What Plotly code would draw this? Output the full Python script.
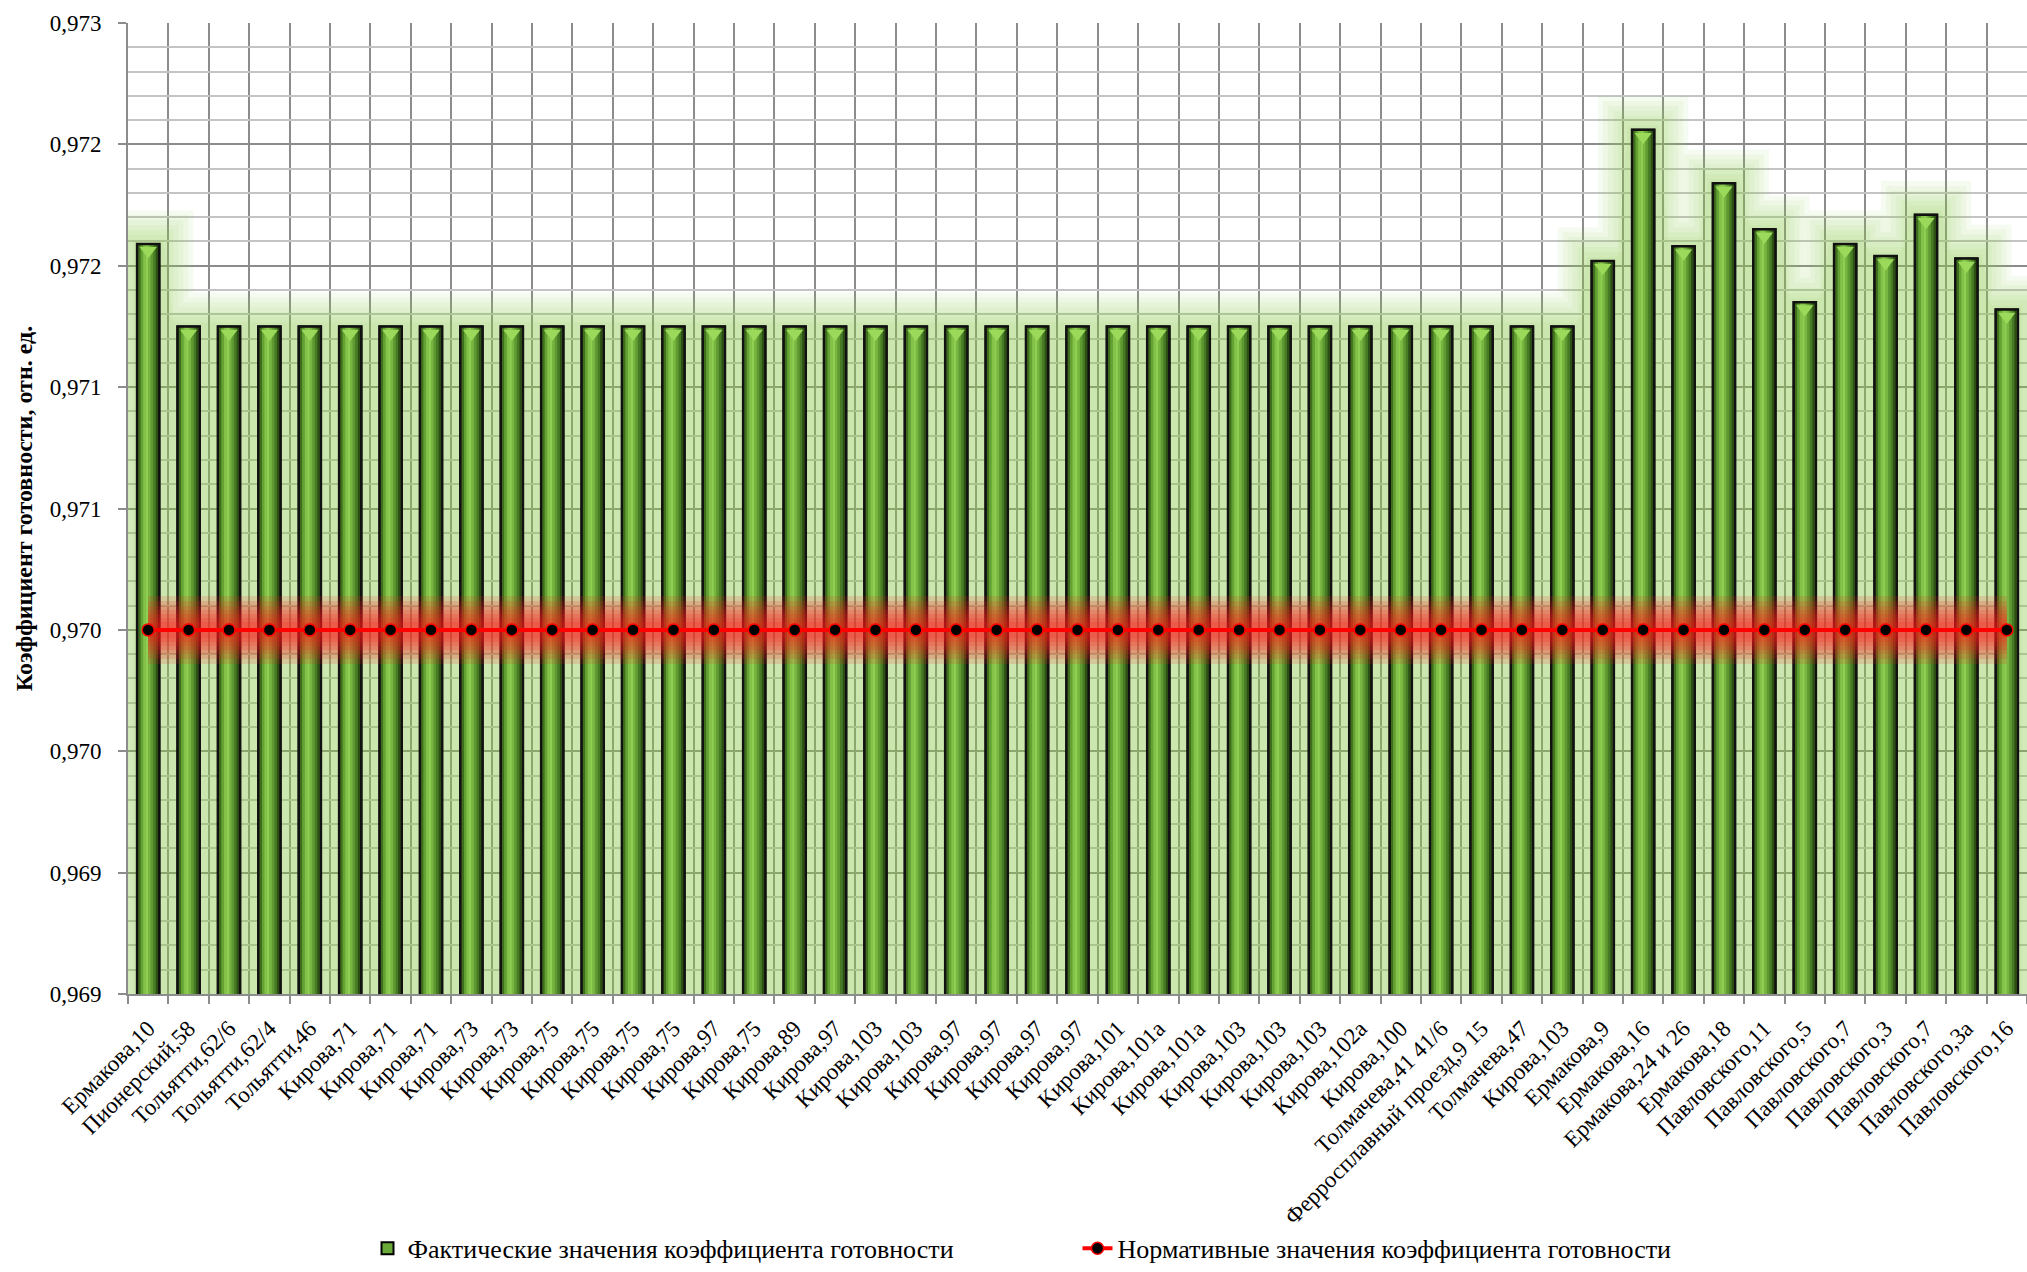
import numpy as np
import plotly.graph_objects as go

categories = [
    "Ермакова,10", "Пионерский,58", "Тольятти,62/6", "Тольятти,62/4", "Тольятти,46",
    "Кирова,71", "Кирова,71", "Кирова,71", "Кирова,73", "Кирова,73",
    "Кирова,75", "Кирова,75", "Кирова,75", "Кирова,75", "Кирова,97",
    "Кирова,75", "Кирова,89", "Кирова,97", "Кирова,103", "Кирова,103",
    "Кирова,97", "Кирова,97", "Кирова,97", "Кирова,97", "Кирова,101",
    "Кирова,101а", "Кирова,101а", "Кирова,103", "Кирова,103", "Кирова,103",
    "Кирова,102а", "Кирова,100", "Толмачева,41 41/6", "Ферросплавный проезд,9 15", "Толмачева,47",
    "Кирова,103", "Ермакова,9", "Ермакова,16", "Ермакова,24 и 26", "Ермакова,18",
    "Павловского,11", "Павловского,5", "Павловского,7", "Павловского,3", "Павловского,7",
    "Павловского,3а", "Павловского,16",
]

actual_values = [
    0.97159, 0.97125, 0.97125, 0.97125, 0.97125,
    0.97125, 0.97125, 0.97125, 0.97125, 0.97125,
    0.97125, 0.97125, 0.97125, 0.97125, 0.97125,
    0.97125, 0.97125, 0.97125, 0.97125, 0.97125,
    0.97125, 0.97125, 0.97125, 0.97125, 0.97125,
    0.97125, 0.97125, 0.97125, 0.97125, 0.97125,
    0.97125, 0.97125, 0.97125, 0.97125, 0.97125,
    0.97125, 0.97152, 0.97206, 0.97158, 0.97184,
    0.97165, 0.97135, 0.97159, 0.97154, 0.97171,
    0.97153, 0.97132,
]

normative_values = [0.970] * len(categories)

y_tick_values = [0.9685, 0.9690, 0.9695, 0.9700, 0.9705, 0.9710, 0.9715, 0.9720, 0.9725]
y_tick_labels = ["0,969", "0,969", "0,970", "0,970", "0,971", "0,971", "0,972", "0,972", "0,973"]

name_actual = "Фактические значения коэффициента готовности"
name_norm = "Нормативные значения коэффициента готовности"
y_title = "Коэффициент готовности, отн. ед."

W, H = 2027, 1272
M_L, M_R, M_T, M_B = 128, 0, 23, 271
n = len(categories)
x = np.arange(n)
y_min, y_max = y_tick_values[0], y_tick_values[-1]
px_per_x = (W - M_L - M_R) / n
px_per_y = (H - M_T - M_B) / (y_max - y_min)

BAR_W = 0.55
FONT = "Liberation Serif"


def glow_outline(vals, half, pad_y):
    """Step outline of the union of glow rectangles around each bar."""
    edges = sorted(set([i - half for i in range(len(vals))] + [i + half for i in range(len(vals))]))
    xs, ys = [], []
    for a, b in zip(edges[:-1], edges[1:]):
        mid = (a + b) / 2
        cov = [v for i, v in enumerate(vals) if abs(mid - i) <= half]
        if not cov:
            continue
        h = max(cov) + pad_y
        xs += [a, b]
        ys += [h, h]
    return xs, ys


fig = go.Figure()

# soft green glow (main subplot, drawn under the bars)
for pad in [4, 9, 14, 19, 24, 29, 34]:
    gx, gy = glow_outline(actual_values, BAR_W / 2 + pad / px_per_x, pad / px_per_y)
    fig.add_trace(go.Scatter(
        x=gx, y=gy, mode="lines", fill="tozeroy", line=dict(width=0),
        fillcolor="rgba(146,208,80,0.078)", hoverinfo="skip", showlegend=False,
        xaxis="x", yaxis="y"))

# bars (overlay subplot)
fig.add_trace(go.Bar(
    x=x, y=actual_values, width=BAR_W, name=name_actual,
    marker=dict(color="#6aa838", line=dict(color="#000000", width=2)),
    xaxis="x2", yaxis="y2", showlegend=True, legendrank=1))

stripe_colors = ["#3f6e1c", "#64a233", "#84c24a", "#8fcf52", "#78b541",
                 "#5f9932", "#477a24", "#2c4f14"]
ns = len(stripe_colors)
sw = (BAR_W - 0.06) / ns
for k, c in enumerate(stripe_colors):
    fig.add_trace(go.Bar(
        x=x, y=actual_values, width=sw, offset=-BAR_W / 2 + 0.03 + k * sw,
        marker=dict(color=c, line=dict(width=0)),
        xaxis="x2", yaxis="y2", showlegend=False, hoverinfo="skip"))

fig.add_trace(go.Bar(
    x=x, y=actual_values, width=BAR_W,
    marker=dict(color="rgba(0,0,0,0)", line=dict(color="#111111", width=2.5)),
    xaxis="x2", yaxis="y2", showlegend=False, hoverinfo="skip"))

# top bevel highlight anchored to bar tops
fig.add_trace(go.Scatter(
    x=x, y=[v - 7 / px_per_y for v in actual_values], mode="markers",
    marker=dict(symbol="triangle-down", size=15, color="#9ad95a", line=dict(width=0)),
    xaxis="x2", yaxis="y2", showlegend=False, hoverinfo="skip"))

# red glow + normative line
for wdt in [68, 58, 48, 40, 32, 24, 16]:
    fig.add_trace(go.Scatter(
        x=x, y=normative_values, mode="lines",
        line=dict(color="rgba(255,30,30,0.15)", width=wdt),
        xaxis="x2", yaxis="y2", showlegend=False, hoverinfo="skip"))

fig.add_trace(go.Scatter(
    x=x, y=normative_values, mode="lines+markers", name=name_norm,
    line=dict(color="#ff0000", width=4),
    marker=dict(symbol="circle", size=12, color="#000000", line=dict(color="#ff0000", width=1.5)),
    xaxis="x2", yaxis="y2", legendrank=2))

GRID = "#8c8c8c"
fig.update_layout(
    width=W, height=H,
    margin=dict(l=M_L, r=M_R, t=M_T, b=M_B, pad=0),
    paper_bgcolor="white", plot_bgcolor="white",
    barmode="overlay",
    font=dict(family=FONT, color="black"),
    showlegend=True,
    legend=dict(orientation="h", x=0.5, xanchor="center", y=-0.262, yanchor="middle",
                font=dict(family=FONT, size=26, color="black"),
                entrywidth=665, entrywidthmode="pixels",
                bgcolor="rgba(0,0,0,0)", traceorder="normal"),
    xaxis=dict(
        range=[-0.5, n - 0.5], tickmode="array", tickvals=list(x), ticktext=categories,
        tickangle=-45, tickfont=dict(family=FONT, size=23, color="black"),
        showgrid=False, zeroline=False, ticks="", automargin=False,
        showline=True, linecolor=GRID, linewidth=2, ticklabelstandoff=10,
        minor=dict(tickmode="linear", tick0=-0.5, dtick=1, showgrid=True,
                   gridcolor=GRID, gridwidth=2, ticks="outside", ticklen=8,
                   tickcolor=GRID, tickwidth=2),
    ),
    yaxis=dict(
        range=[y_min, y_max], tickmode="array", tickvals=y_tick_values, ticktext=y_tick_labels,
        tickfont=dict(family=FONT, size=23, color="black"),
        showgrid=True, gridcolor=GRID, gridwidth=2, zeroline=False,
        ticks="outside", ticklen=8, tickcolor=GRID, tickwidth=2, automargin=False,
        showline=True, linecolor=GRID, linewidth=2, ticklabelstandoff=12,
        minor=dict(tickmode="linear", tick0=y_min, dtick=0.0001, showgrid=True,
                   gridcolor="#c4c4c4", gridwidth=1.5),
        title=dict(text="<b>" + y_title + "</b>", font=dict(family=FONT, size=24, color="black"),
                   standoff=10),
    ),
    xaxis2=dict(range=[-0.5, n - 0.5], overlaying="x", visible=False),
    yaxis2=dict(range=[y_min, y_max], overlaying="y", visible=False),
)

fig.write_html("out.html")
